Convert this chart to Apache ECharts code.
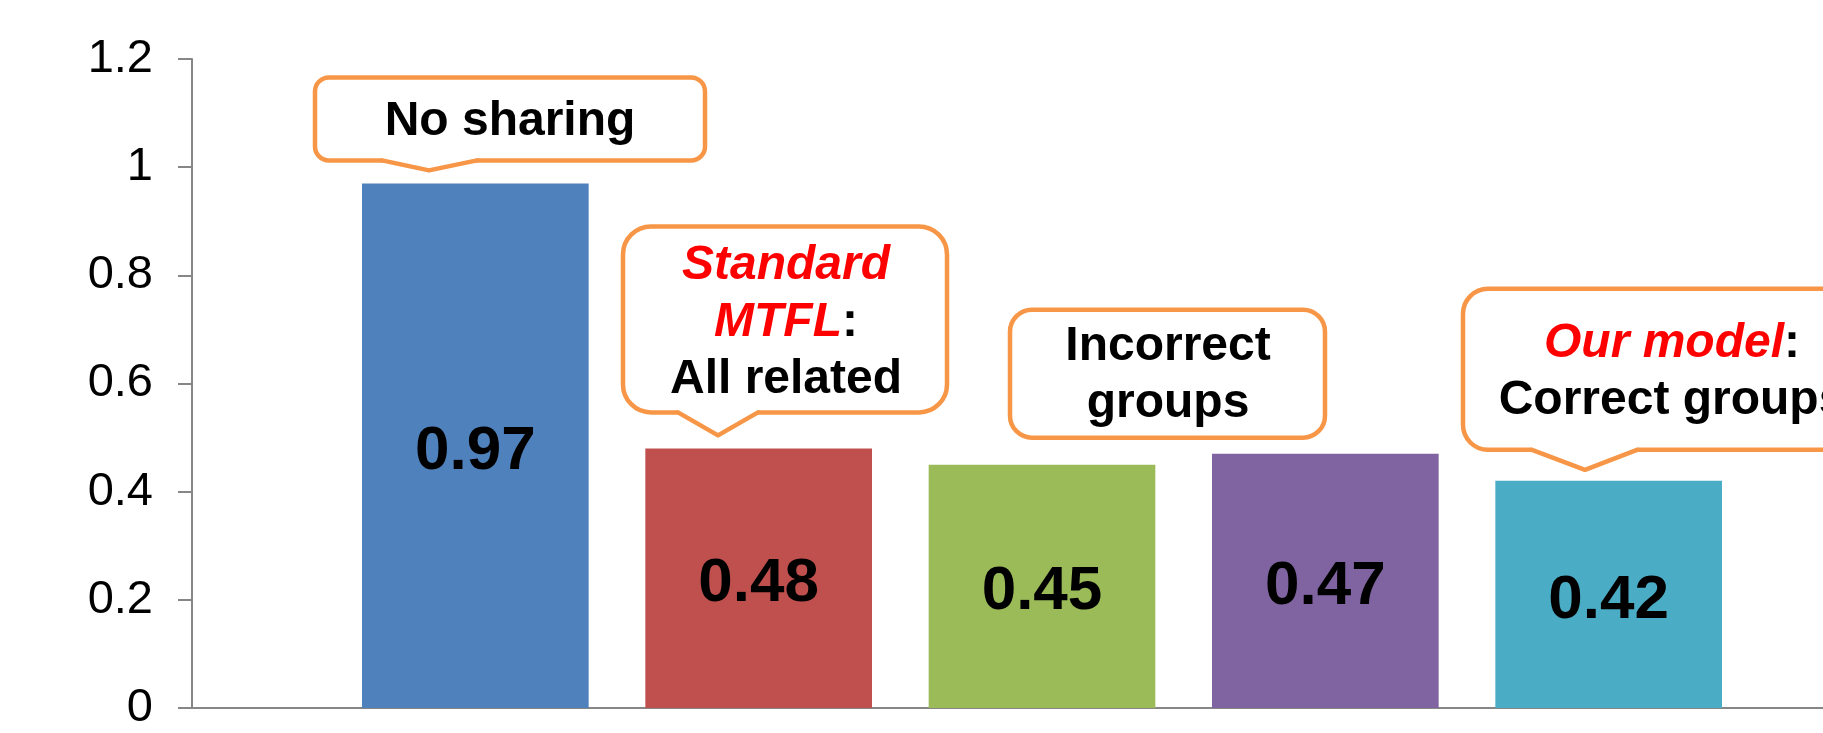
<!DOCTYPE html>
<html>
<head>
<meta charset="utf-8">
<title>Error by sharing model</title>
<script src="https://cdn.jsdelivr.net/npm/echarts@6/dist/echarts.min.js"></script>
<style>
  html, body { margin: 0; padding: 0; background: #ffffff; }
  #chart { width: 1823px; height: 733px; }
</style>
</head>
<body>
<div id="chart"></div>
<script>
// Five sharing settings, each drawn as its own series in one category group
const seriesNames = ['No sharing', 'Standard MTFL', 'Incorrect groups (1)', 'Incorrect groups (2)', 'Our model'];
const values = [0.97, 0.48, 0.45, 0.47, 0.42];
const barColors = ['#4F81BD', '#C0504D', '#9BBB59', '#8064A2', '#4BACC6'];
const yTicks = [0, 0.2, 0.4, 0.6, 0.8, 1, 1.2];

const FONT = '"Liberation Sans", Arial, Helvetica, sans-serif';
const ORANGE = '#F79646';
const AXIS_GREY = '#868686';

const chart = echarts.init(document.getElementById('chart'), null, { renderer: 'canvas' });

const series = values.map((v, i) => ({
  type: 'bar',
  name: seriesNames[i],
  data: [v],
  barGap: '25%',
  barCategoryGap: '20%',
  itemStyle: { color: barColors[i] },
  label: {
    show: true,
    position: 'inside',
    offset: [0, 6],
    formatter: (p) => p.value.toFixed(2),
    fontFamily: FONT,
    fontWeight: 'bold',
    fontSize: 62,
    color: '#000000'
  }
}));

chart.setOption({
  animation: false,
  backgroundColor: '#ffffff',
  grid: {
    left: 192,
    top: 59,
    bottom: 25,
    width: 1700,
    containLabel: false,
    outerBoundsMode: 'none'
  },
  xAxis: {
    type: 'category',
    data: [''],
    axisLine: { show: true, lineStyle: { color: AXIS_GREY, width: 2 } },
    axisTick: { show: false },
    axisLabel: { show: false },
    splitLine: { show: false }
  },
  yAxis: {
    type: 'value',
    min: yTicks[0],
    max: yTicks[yTicks.length - 1],
    interval: yTicks[1] - yTicks[0],
    axisLine: { show: true, lineStyle: { color: AXIS_GREY, width: 2 } },
    axisTick: { show: true, inside: false, length: 14, lineStyle: { color: AXIS_GREY, width: 2 } },
    splitLine: { show: false },
    axisLabel: {
      margin: 39,
      color: '#000000',
      fontFamily: FONT,
      fontSize: 47,
      formatter: (v) => String(Math.round(v * 10) / 10)
    }
  },
  series: series
});

// Speech-balloon annotations, placed relative to the group centre and the top of the bar they describe
const callouts = [
  {
    bar: 0, box: [-727, -106, -337, -23], r: 14,
    pointer: [-660, -565, -613, -13],
    text: '{b|No sharing}', textPos: [-532, -62]
  },
  {
    bar: 1, box: [-419, -222, -95, -36], r: 28,
    pointer: [-364, -284, -324, -13],
    text: '{r|Standard}\n{r|MTFL}{b|:}\n{b|All related}', textPos: [-256, -126]
  },
  {
    bar: 2, box: [-32, -155, 283, -27], r: 22,
    pointer: null,
    text: '{b|Incorrect}\n{b|groups}', textPos: [126, -89]
  },
  {
    bar: 4, box: [421, -192, 838, -31], r: 25,
    pointer: [490, 595, 543, -11],
    text: '{r|Our model}{b|:}\n{b|Correct groups}', textPos: [630, -109]
  }
];

const richStyles = {
  b: { fill: '#000000', fontFamily: FONT, fontWeight: 'bold', fontSize: 48, lineHeight: 57 },
  r: { fill: '#FF0000', fontFamily: FONT, fontWeight: 'bold', fontStyle: 'italic', fontSize: 48, lineHeight: 57 }
};

const LW = 4.5;
const graphics = [];
callouts.forEach((c, i) => {
  const anchor = chart.convertToPixel({ xAxisIndex: 0, yAxisIndex: 0 }, [0, values[c.bar]]);
  const ax = anchor[0], ay = anchor[1];
  const x1 = ax + c.box[0], y1 = ay + c.box[1], x2 = ax + c.box[2], y2 = ay + c.box[3];
  // rounded box
  graphics.push({
    type: 'rect',
    z: 10,
    shape: { x: x1, y: y1, width: x2 - x1, height: y2 - y1, r: c.r },
    style: { fill: '#ffffff', stroke: ORANGE, lineWidth: LW }
  });
  if (c.pointer) {
    const bl = ax + c.pointer[0], br = ax + c.pointer[1];
    const tx = ax + c.pointer[2], ty = ay + c.pointer[3];
    // white wedge hides the box edge where the pointer leaves it
    graphics.push({
      type: 'polygon',
      z: 11,
      shape: { points: [[bl, y2 - LW], [br, y2 - LW], [br, y2], [tx, ty], [bl, y2]] },
      style: { fill: '#ffffff', stroke: null }
    });
    graphics.push({
      type: 'polyline',
      z: 12,
      shape: { points: [[bl, y2], [tx, ty], [br, y2]] },
      style: { fill: null, stroke: ORANGE, lineWidth: LW, lineJoin: 'round', lineCap: 'round' }
    });
  }
  graphics.push({
    type: 'text',
    z: 13,
    x: ax + c.textPos[0],
    y: ay + c.textPos[1],
    style: {
      text: c.text,
      rich: richStyles,
      align: 'center',
      verticalAlign: 'middle',
      fontFamily: FONT,
      fontSize: 48,
      fontWeight: 'bold',
      fill: '#000000'
    }
  });
});

chart.setOption({ graphic: graphics });
</script>
</body>
</html>
